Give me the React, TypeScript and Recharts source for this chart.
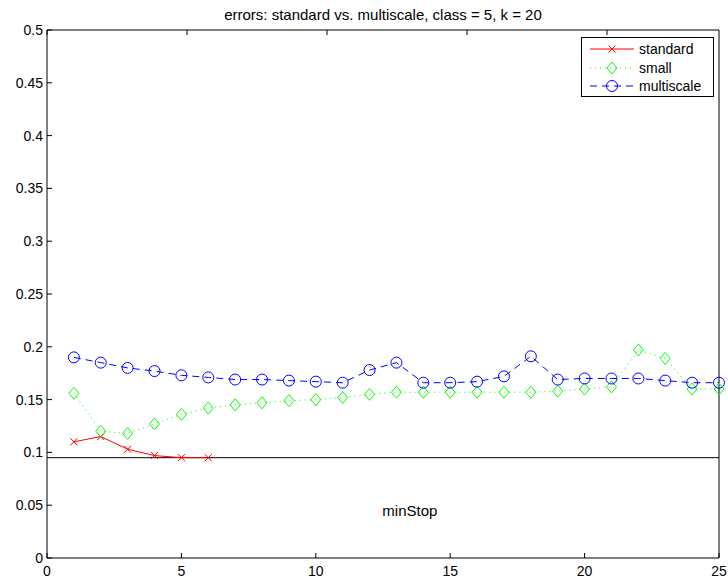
import React from 'react'
import { Line, LineChart, ReferenceDot, ReferenceLine, XAxis, YAxis } from 'recharts'

// iteration index on the x-axis
const iterations = [1, 2, 3, 4, 5, 6, 7, 8, 9, 10, 11, 12, 13, 14, 15, 16, 17, 18, 19, 20, 21, 22, 23, 24, 25]

// error per iteration
const standardErr = [0.11, 0.115, 0.103, 0.097, 0.095, 0.095]
const smallErr = [
  0.156, 0.12, 0.118, 0.127, 0.136, 0.142, 0.145, 0.147, 0.149, 0.15, 0.152, 0.155, 0.157,
  0.157, 0.157, 0.157, 0.157, 0.157, 0.158, 0.16, 0.162, 0.197, 0.189, 0.16, 0.16,
]
const multiscaleErr = [
  0.19, 0.185, 0.18, 0.177, 0.173, 0.171, 0.169, 0.169, 0.168, 0.167, 0.166, 0.178, 0.185,
  0.166, 0.166, 0.167, 0.172, 0.191, 0.169, 0.17, 0.17, 0.17, 0.168, 0.166, 0.166,
]

const xTicks = [0, 5, 10, 15, 20, 25]
const yTicks = [0, 0.05, 0.1, 0.15, 0.2, 0.25, 0.3, 0.35, 0.4, 0.45, 0.5]

const minStop = 0.095
const minStopLabelAt = { x: 13.5, y: 0.045 }

const title = 'errors: standard vs. multiscale, class = 5, k = 20'

const data = iterations.map((it, i) => ({
  it,
  standard: standardErr[i] ?? null,
  small: smallErr[i],
  multiscale: multiscaleErr[i],
}))

const RED = '#ff0000'
const GREEN = '#00ff00'
const BLUE = '#0000ff'
const FONT = '"Liberation Sans", Arial, sans-serif'

const tickStyle = { fill: '#000', fontSize: 14, fontFamily: FONT }
const blank = () => ''

function Cross({ cx, cy, key }: any) {
  if (cx == null || cy == null) return <g key={key} />
  const s = 3.5
  return (
    <g key={key} stroke={RED} strokeWidth={1}>
      <line x1={cx - s} y1={cy - s} x2={cx + s} y2={cy + s} />
      <line x1={cx - s} y1={cy + s} x2={cx + s} y2={cy - s} />
    </g>
  )
}

function Diamond({ cx, cy, key }: any) {
  if (cx == null || cy == null) return <g key={key} />
  return (
    <path
      key={key}
      d={`M${cx},${cy - 6}L${cx + 5},${cy}L${cx},${cy + 6}L${cx - 5},${cy}Z`}
      fill="none"
      stroke={GREEN}
      strokeWidth={1}
    />
  )
}

function Circle({ cx, cy, key }: any) {
  if (cx == null || cy == null) return <g key={key} />
  return <circle key={key} cx={cx} cy={cy} r={5.5} fill="none" stroke={BLUE} strokeWidth={1} />
}

const legendRows = [
  { name: 'standard', color: RED, dash: undefined, marker: 'x' },
  { name: 'small', color: GREEN, dash: '1 4', marker: 'd' },
  { name: 'multiscale', color: BLUE, dash: '7 5', marker: 'o' },
]

function LegendBox() {
  return (
    <div
      style={{
        position: 'absolute',
        left: 581,
        top: 37,
        width: 131,
        height: 58,
        border: '1px solid #000',
        background: '#fff',
        fontFamily: FONT,
        fontSize: 14,
      }}
    >
      {legendRows.map((r, i) => (
        <div
          key={r.name}
          style={{ position: 'absolute', left: 0, top: 2 + i * 18.5, height: 18, display: 'flex', alignItems: 'center' }}
        >
          <svg width={57} height={18}>
            <line x1={8} y1={9} x2={52} y2={9} stroke={r.color} strokeDasharray={r.dash} />
            {r.marker === 'x' && <Cross cx={30} cy={9} />}
            {r.marker === 'd' && <Diamond cx={30} cy={9} />}
            {r.marker === 'o' && <Circle cx={30} cy={9} />}
          </svg>
          <span>{r.name}</span>
        </div>
      ))}
    </div>
  )
}

export default function App() {
  return (
    <div style={{ position: 'absolute', left: 0, top: 0, width: 728, height: 580, background: '#fff' }}>
      <div
        style={{
          position: 'absolute',
          left: 47,
          width: 672,
          top: 6,
          textAlign: 'center',
          fontFamily: FONT,
          fontSize: 15,
        }}
      >
        {title}
      </div>
      <LineChart width={728} height={580} data={data} margin={{ top: 29, right: 8, bottom: 0, left: 0 }}>
        <XAxis
          dataKey="it"
          type="number"
          domain={[0, 25]}
          ticks={xTicks}
          height={22}
          tickSize={-5}
          tickMargin={13}
          tick={tickStyle}
          axisLine={{ stroke: '#000' }}
          tickLine={{ stroke: '#000' }}
        />
        <XAxis
          xAxisId="top"
          orientation="top"
          type="number"
          domain={[0, 25]}
          ticks={xTicks}
          height={1}
          tickSize={-5}
          tickFormatter={blank}
          axisLine={{ stroke: '#000' }}
          tickLine={{ stroke: '#000' }}
        />
        <YAxis
          type="number"
          domain={[0, 0.5]}
          ticks={yTicks}
          width={47}
          tickSize={-5}
          tickMargin={9}
          tick={tickStyle}
          tickFormatter={(v) => String(v)}
          axisLine={{ stroke: '#000' }}
          tickLine={{ stroke: '#000' }}
        />
        <YAxis
          yAxisId="right"
          orientation="right"
          type="number"
          domain={[0, 0.5]}
          ticks={yTicks}
          width={1}
          tickSize={-5}
          tickFormatter={blank}
          axisLine={{ stroke: '#000' }}
          tickLine={{ stroke: '#000' }}
        />
        <ReferenceLine y={minStop} stroke="#000" strokeWidth={1} />
        <ReferenceDot
          x={minStopLabelAt.x}
          y={minStopLabelAt.y}
          r={0}
          label={{ value: 'minStop', fill: '#000', fontSize: 15, fontFamily: FONT }}
        />
        <Line
          dataKey="standard"
          stroke={RED}
          strokeWidth={1}
          dot={Cross}
          activeDot={false}
          connectNulls={false}
          isAnimationActive={false}
        />
        <Line
          dataKey="small"
          stroke={GREEN}
          strokeWidth={1}
          strokeDasharray="1 4"
          dot={Diamond}
          activeDot={false}
          isAnimationActive={false}
        />
        <Line
          dataKey="multiscale"
          stroke={BLUE}
          strokeWidth={1}
          strokeDasharray="7 5"
          dot={Circle}
          activeDot={false}
          isAnimationActive={false}
        />
      </LineChart>
      <LegendBox />
    </div>
  )
}
